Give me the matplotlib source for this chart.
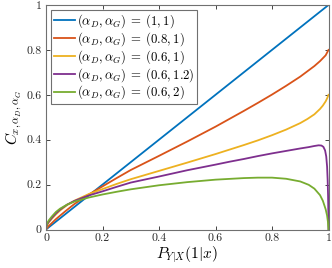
import numpy as np
import matplotlib
matplotlib.use("Agg")
import matplotlib.pyplot as plt

plt.rcParams['mathtext.fontset'] = 'cm'
plt.rcParams['font.family'] = 'serif'
plt.rcParams['font.serif'] = ['cmr10', 'DejaVu Serif']
plt.rcParams['axes.formatter.use_mathtext'] = True

# values
x_blue = [0.0, 1.0]
y_blue = [0.0, 1.0]

x_orange = [0, 0.005, 0.01, 0.02, 0.035, 0.05, 0.075, 0.1, 0.15, 0.2, 0.25, 0.3, 0.4, 0.5, 0.6, 0.65, 0.7,
            0.75, 0.8, 0.85, 0.9, 0.95, 0.97, 0.99, 1.0]
y_orange = [0, 0.009, 0.016, 0.028, 0.046, 0.062, 0.088, 0.113, 0.155, 0.192, 0.229, 0.265, 0.328, 0.392, 0.458,
            0.493, 0.528, 0.564, 0.601, 0.640, 0.681, 0.728, 0.750, 0.776, 0.80]

x_yellow = [0, 0.002, 0.005, 0.01, 0.02, 0.035, 0.05, 0.075, 0.1, 0.15, 0.2, 0.25, 0.3, 0.4, 0.5, 0.6, 0.65,
            0.7, 0.75, 0.8, 0.85, 0.9, 0.925, 0.95, 0.97, 0.98, 0.99, 0.995, 1.0]
y_yellow = [0, 0.013, 0.022, 0.032, 0.047, 0.067, 0.085, 0.109, 0.128, 0.157, 0.18, 0.203, 0.224, 0.261, 0.298,
            0.336, 0.356, 0.376, 0.397, 0.42, 0.445, 0.474, 0.492, 0.513, 0.537, 0.552, 0.571, 0.584, 0.60]

x_purple = [0, 0.002, 0.005, 0.01, 0.02, 0.035, 0.05, 0.075, 0.1, 0.15, 0.2, 0.25, 0.3, 0.4, 0.5, 0.6, 0.65,
            0.7, 0.75, 0.8, 0.85, 0.9, 0.93, 0.95, 0.965, 0.975, 0.982, 0.988, 0.992, 0.995, 0.997, 0.9985,
            0.9995, 1.0]
y_purple = [0, 0.015, 0.025, 0.035, 0.051, 0.072, 0.089, 0.111, 0.127, 0.151, 0.17, 0.19, 0.209, 0.236, 0.264,
            0.289, 0.302, 0.314, 0.327, 0.339, 0.35, 0.361, 0.367, 0.372, 0.375, 0.374, 0.368, 0.352, 0.325,
            0.28, 0.22, 0.15, 0.07, 0.0]

x_green = [0, 0.002, 0.005, 0.01, 0.02, 0.035, 0.05, 0.075, 0.1, 0.15, 0.2, 0.25, 0.3, 0.4, 0.5, 0.6, 0.7,
           0.75, 0.8, 0.85, 0.9, 0.93, 0.95, 0.97, 0.98, 0.99, 0.995, 0.998, 1.0]
y_green = [0, 0.018, 0.03, 0.041, 0.057, 0.078, 0.093, 0.111, 0.124, 0.142, 0.156, 0.168, 0.179, 0.197, 0.211,
           0.222, 0.229, 0.231, 0.231, 0.226, 0.214, 0.199, 0.182, 0.153, 0.128, 0.09, 0.062, 0.034, 0.0]

labels = [r'$(\alpha_D,\alpha_G)\;=\;(1,1)$', r'$(\alpha_D,\alpha_G)\;=\;(0.8,1)$',
          r'$(\alpha_D,\alpha_G)\;=\;(0.6,1)$', r'$(\alpha_D,\alpha_G)\;=\;(0.6,1.2)$',
          r'$(\alpha_D,\alpha_G)\;=\;(0.6,2)$']
colors = ['#0072BD', '#D95319', '#EDB120', '#7E2F8E', '#77AC30']
ticks = [0, 0.2, 0.4, 0.6, 0.8, 1]
tick_labels = ['0', '0.2', '0.4', '0.6', '0.8', '1']

fig = plt.figure(figsize=(3.32, 2.68), dpi=100)
ax = fig.add_axes([46/332, 1-229.5/268, 282.5/332, 224.5/268])

series = [(x_blue, y_blue), (x_orange, y_orange), (x_yellow, y_yellow), (x_purple, y_purple), (x_green, y_green)]
for (xs, ys), c, lab in zip(series, colors, labels):
    ax.plot(xs, ys, color=c, lw=1.3, label=lab)

ax.set_xlim(0, 1)
ax.set_ylim(0, 1)
ax.set_xticks(ticks)
ax.set_xticklabels(tick_labels)
ax.set_yticks(ticks)
ax.set_yticklabels(tick_labels)
ax.tick_params(direction='in', length=3, width=0.6, top=True, right=True, labelsize=8.5, colors='#262626', pad=3)
for s in ax.spines.values():
    s.set_color('#707070')
    s.set_linewidth(0.8)

ax.set_xlabel(r'$P_{Y|X}(1|x)$', fontsize=11, labelpad=1)
ax.set_ylabel(r'$C_{x,\alpha_D,\alpha_G}$', fontsize=11, labelpad=2)

leg = ax.legend(loc='upper left', bbox_to_anchor=(5/282.5, 1-5/224.5), borderaxespad=0, fontsize=9.2,
                frameon=True, fancybox=False, handlelength=1.7, handletextpad=0.15, labelspacing=0.0,
                borderpad=0.2, framealpha=1)
leg.get_frame().set_edgecolor('#707070')
leg.get_frame().set_linewidth(0.8)

fig.savefig("out.png", dpi=100)
